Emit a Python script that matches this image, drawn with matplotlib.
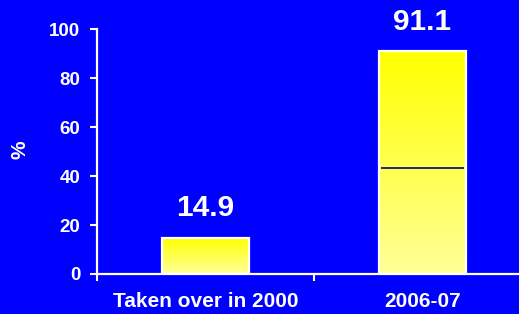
import numpy as np
import matplotlib
matplotlib.use("Agg")
import matplotlib.pyplot as plt
from matplotlib.colors import LinearSegmentedColormap

categories = ["Taken over in 2000", "2006-07"]
values = [14.9, 91.1]
split_values = [None, 43.5]
value_labels = ["14.9", "91.1"]
yticks = [0, 20, 40, 60, 80, 100]

plt.rcParams['font.family'] = ['Liberation Sans', 'DejaVu Sans']
plt.rcParams['font.weight'] = 'bold'

BG = "#0000FF"
fig = plt.figure(figsize=(5.19, 3.14), dpi=100, facecolor=BG)
ax = fig.add_axes([97/519, 1-274/314, 434/519, (274-29.3)/314], facecolor=BG)

centers = np.arange(len(categories)) + 0.5
width = 0.405
cmap = LinearSegmentedColormap.from_list("yg", ["#FFFF99", "#FFFF00"])

bars = ax.bar(centers, values, width=width, facecolor='none', edgecolor='white', linewidth=1.6, zorder=3)
for b, v in zip(bars, values):
    x0 = b.get_x(); x1 = x0 + b.get_width()
    grad = np.linspace(0, 1, 256).reshape(-1, 1)
    im = ax.imshow(grad, extent=[x0, x1, 0, v], origin='lower', cmap=cmap, aspect='auto', zorder=2)
    im.set_clip_path(b)

for c, s in zip(centers, split_values):
    if s is not None:
        ax.hlines(s, c - width/2 + 0.012, c + width/2 - 0.012, colors='#000080', linewidth=1.2, zorder=4)

for c, v, lab in zip(centers, values, value_labels):
    ax.text(c, v + 8.6, lab, ha='center', va='baseline', color='white', fontsize=21.5, fontweight='bold')

ax.set_xlim(0, 2)
ax.set_ylim(0, 100)
ax.set_yticks(yticks)
ax.set_yticklabels([str(t) for t in yticks])
ax.set_xticks([0, 1, 2])
ax.set_xticklabels([])
ax.set_xticks(centers, minor=True)
ax.set_xticklabels(categories, minor=True)
ax.tick_params(axis='x', which='minor', length=0, pad=13, labelsize=15, colors='white')
ax.tick_params(axis='x', which='major', length=5, width=1.5, color='white', direction='out')
ax.tick_params(axis='y', length=5, width=1.5, color='white', direction='out', pad=7, labelsize=13.5, labelcolor='white')
for lab in ax.get_xticklabels(minor=True) + ax.get_yticklabels():
    lab.set_fontweight('bold')

for sp in ['top', 'right']:
    ax.spines[sp].set_visible(False)
for sp in ['left', 'bottom']:
    ax.spines[sp].set_color('white')
    ax.spines[sp].set_linewidth(1.6)

fig.text(20/519, 1-150/314, "%", rotation=90, ha='center', va='center', color='white', fontsize=15, fontweight='bold')

fig.savefig("out.png", dpi=100, facecolor=BG)
